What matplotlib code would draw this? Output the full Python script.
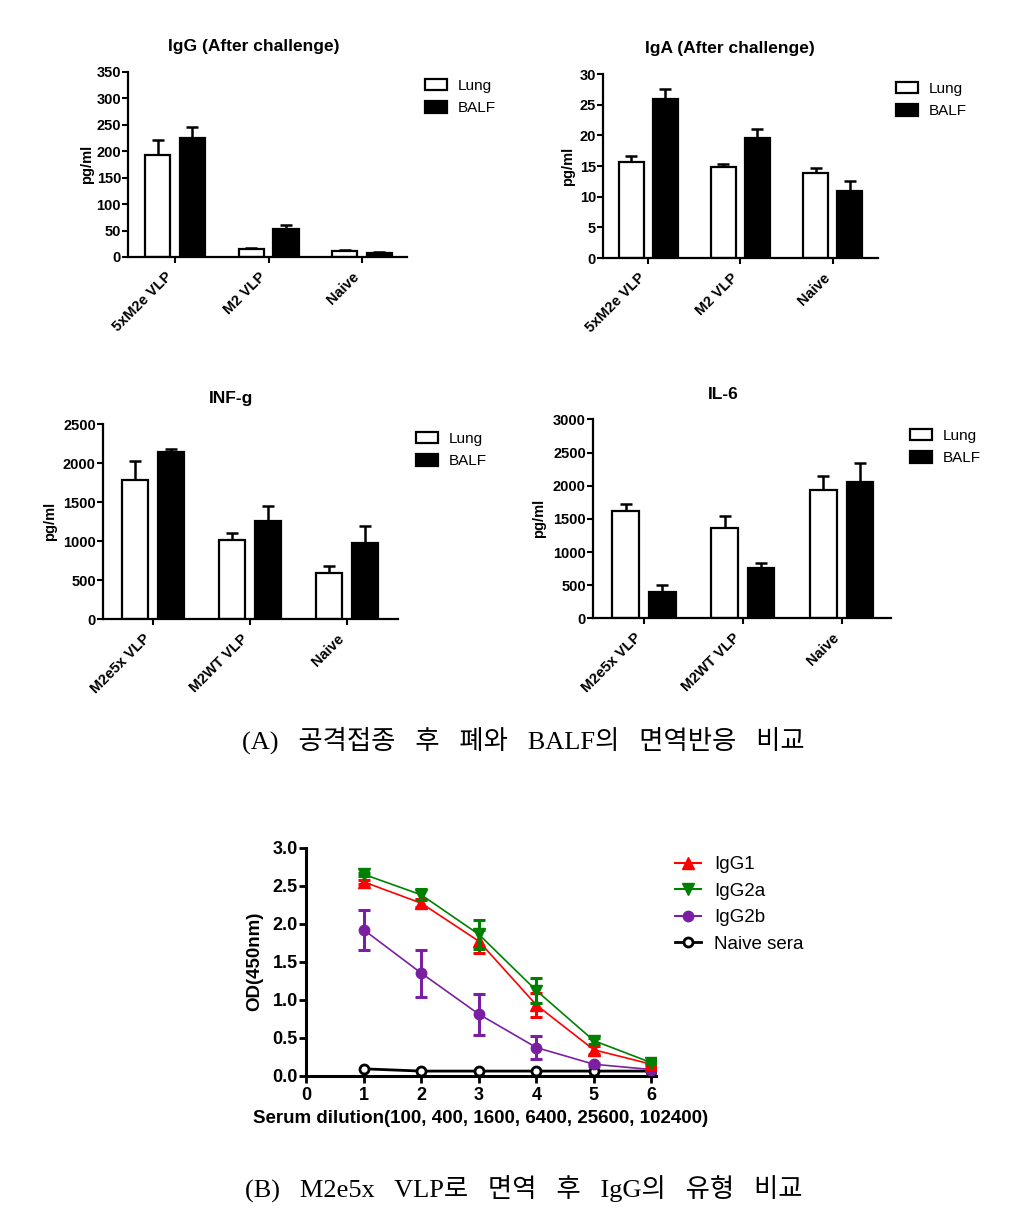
import numpy as np
import matplotlib
matplotlib.use("Agg")
import matplotlib.pyplot as plt
from matplotlib.patches import Patch
from matplotlib.lines import Line2D

plt.rcParams['font.family'] = ['Liberation Sans', 'DejaVu Sans']
plt.rcParams['font.weight'] = 'bold'
plt.rcParams['axes.labelweight'] = 'bold'

# ---- dados dos graficos de barras (pg/ml) ----
groups_a = ['5xM2e VLP', 'M2 VLP', 'Naive']
groups_b = ['M2e5x VLP', 'M2WT VLP', 'Naive']

igg_lung = [193, 15, 11]
igg_lung_err = [28, 2, 1.5]
igg_balf = [226, 53, 8]
igg_balf_err = [20, 7, 1.5]

iga_lung = [15.7, 14.9, 13.9]
iga_lung_err = [0.9, 0.5, 0.8]
iga_balf = [25.9, 19.5, 10.9]
iga_balf_err = [1.6, 1.5, 1.6]

infg_lung = [1786, 1013, 597]
infg_lung_err = [247, 90, 90]
infg_balf = [2150, 1256, 974]
infg_balf_err = [40, 197, 226]

il6_lung = [1618, 1366, 1935]
il6_lung_err = [106, 181, 215]
il6_balf = [392, 763, 2060]
il6_balf_err = [110, 66, 277]

# ---- dados da curva de diluicao (OD 450nm) ----
dilution = [1, 2, 3, 4, 5, 6]
igg1 = [2.55, 2.27, 1.77, 0.93, 0.34, 0.15]
igg1_err = [0.03, 0.05, 0.15, 0.16, 0.05, 0.02]
igg2a = [2.65, 2.38, 1.86, 1.12, 0.46, 0.17]
igg2a_err = [0.02, 0.07, 0.19, 0.16, 0.04, 0.02]
igg2b = [1.92, 1.35, 0.81, 0.37, 0.15, 0.08]
igg2b_err = [0.26, 0.31, 0.27, 0.15, 0.02, 0.01]
naive = [0.09, 0.06, 0.06, 0.06, 0.06, 0.06]

fig = plt.figure(figsize=(10.12, 12.12), dpi=100)


def bar_panel(rect, title, title_x, groups, lung, lung_err, balf, balf_err,
              ymax, ystep, xlim, ylabel_x, leg_xy):
    ax = fig.add_axes(rect)
    x = np.arange(len(groups))
    w = 0.27
    ax.bar(x - 0.185, lung, w, color='white', edgecolor='black', linewidth=1.6, zorder=2)
    ax.bar(x + 0.185, balf, w, color='black', edgecolor='black', linewidth=1.6, zorder=2)
    ax.errorbar(x - 0.185, lung, yerr=[np.zeros(3), lung_err], fmt='none',
                ecolor='black', elinewidth=1.8, capsize=4, capthick=1.8, zorder=1)
    ax.errorbar(x + 0.185, balf, yerr=[np.zeros(3), balf_err], fmt='none',
                ecolor='black', elinewidth=1.8, capsize=4, capthick=1.8, zorder=1)
    ax.set_xlim(*xlim)
    ax.set_ylim(0, ymax)
    ax.set_yticks(np.arange(0, ymax + 1e-9, ystep))
    ax.set_xticks(x)
    ax.set_xticklabels(groups, rotation=45, ha='right', va='top', fontsize=10.5)
    ax.tick_params(axis='y', labelsize=10.5, length=4, width=1.5, pad=1)
    ax.tick_params(axis='x', length=4, width=1.5, pad=5)
    for s in ['top', 'right']:
        ax.spines[s].set_visible(False)
    for s in ['left', 'bottom']:
        ax.spines[s].set_linewidth(1.6)
    ax.set_ylabel('pg/ml', fontsize=10.5, va='center', fontweight='bold')
    ax.yaxis.set_label_coords(ylabel_x, 0.5)
    ax.set_title(title, x=title_x, pad=15, fontsize=12.5, fontweight='bold')
    handles = [Patch(facecolor='white', edgecolor='black', linewidth=1.6),
               Patch(facecolor='black', edgecolor='black', linewidth=1.6)]
    ax.legend(handles, ['Lung', 'BALF'], loc='upper left',
              bbox_to_anchor=(leg_xy[0] / 1012, 1 - leg_xy[1] / 1212),
              bbox_transform=fig.transFigure, frameon=False, borderpad=0,
              borderaxespad=0, handlelength=1.45, handleheight=0.75,
              handletextpad=0.7, labelspacing=0.55,
              prop={'size': 11, 'weight': 'normal'})
    return ax


bar_panel([0.1265, 0.7880, 0.2757, 0.1526], 'IgG (After challenge)', 0.452,
          groups_a, igg_lung, igg_lung_err, igg_balf, igg_balf_err,
          350, 50, (-0.503, 2.48), -0.147, (425, 79))
bar_panel([0.5958, 0.7871, 0.2717, 0.1518], 'IgA (After challenge)', 0.462,
          groups_a, iga_lung, iga_lung_err, iga_balf, iga_balf_err,
          30, 5, (-0.49, 2.49), -0.127, (896, 82))
bar_panel([0.1015, 0.4890, 0.2915, 0.1609], 'INF-g', 0.435,
          groups_b, infg_lung, infg_lung_err, infg_balf, infg_balf_err,
          2500, 500, (-0.52, 2.52), -0.179, (416, 432))
bar_panel([0.5857, 0.4898, 0.2948, 0.1642], 'IL-6', 0.437,
          groups_b, il6_lung, il6_lung_err, il6_balf, il6_balf_err,
          3000, 500, (-0.52, 2.5), -0.18, (910, 429))

# ---- curva de diluicao ----
ax = fig.add_axes([0.3024, 0.1125, 0.3459, 0.1881])
purple = '#7B1FA2'
ax.plot(dilution, naive, color='black', lw=2, marker='o', ms=6.5,
        mfc='white', mec='black', mew=2, zorder=2)
ax.errorbar(dilution, igg2b, yerr=igg2b_err, color=purple, lw=1.2, marker='o', ms=7.5,
            elinewidth=2.2, capsize=4.5, capthick=2.2, zorder=3)
ax.errorbar(dilution, igg1, yerr=igg1_err, color='#FF0000', lw=1.2, marker='^', ms=8,
            elinewidth=2.2, capsize=4.5, capthick=2.2, zorder=4)
ax.errorbar(dilution, igg2a, yerr=igg2a_err, color='#008000', lw=1.2, marker='v', ms=8,
            elinewidth=2.2, capsize=4.5, capthick=2.2, zorder=5)
ax.set_xlim(0, 6.08)
ax.set_ylim(0, 3.0)
ax.set_xticks(range(0, 7))
ax.set_yticks(np.arange(0, 3.01, 0.5))
ax.set_yticklabels(['%.1f' % v for v in np.arange(0, 3.01, 0.5)])
ax.tick_params(axis='both', labelsize=13, length=5, width=2)
ax.tick_params(axis='y', pad=1)
ax.tick_params(axis='x', pad=3)
for s in ['top', 'right']:
    ax.spines[s].set_visible(False)
for s in ['left', 'bottom']:
    ax.spines[s].set_linewidth(2.2)
ax.set_ylabel('OD(450nm)', fontsize=13.5, va='center', fontweight='bold')
ax.yaxis.set_label_coords(-0.146, 0.5)
ax.set_xlabel('Serum dilution(100, 400, 1600, 6400, 25600, 102400)', fontsize=13.5,
              fontweight='bold')
ax.xaxis.set_label_coords(0.5, -0.15)

handles = [Line2D([], [], color='#FF0000', lw=1.5, marker='^', ms=8),
           Line2D([], [], color='#008000', lw=1.5, marker='v', ms=8),
           Line2D([], [], color=purple, lw=1.5, marker='o', ms=7.5),
           Line2D([], [], color='black', lw=2, marker='o', ms=6.5, mfc='white', mew=2)]
ax.legend(handles, ['IgG1', 'IgG2a', 'IgG2b', 'Naive sera'], loc='upper left',
          bbox_to_anchor=(675 / 1012, 1 - 856 / 1212), bbox_transform=fig.transFigure,
          frameon=False, borderpad=0, borderaxespad=0, handlelength=1.4,
          handletextpad=0.7, labelspacing=0.5, prop={'size': 13.5, 'weight': 'normal'})

# ---- legendas das figuras ----
cap_font = ['Liberation Serif', 'Noto Sans CJK KR']
fig.text(0.5168, 1 - 740 / 1212, '(A)   공격접종   후   폐와   BALF의   면역반응   비교',
         ha='center', va='center', fontsize=19, family=cap_font, fontweight='normal')
fig.text(0.5178, 1 - 1188 / 1212, '(B)   M2e5x   VLP로   면역   후   IgG의   유형   비교',
         ha='center', va='center', fontsize=19, family=cap_font, fontweight='normal')

plt.savefig('out.png', dpi=100)
